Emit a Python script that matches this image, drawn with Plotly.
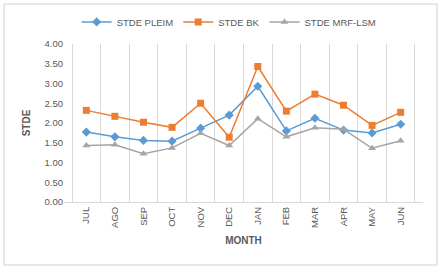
import plotly.graph_objects as go

months = ["JUL", "AGO", "SEP", "OCT", "NOV", "DEC", "JAN", "FEB", "MAR", "APR", "MAY", "JUN"]
stde_pleim = [1.77, 1.65, 1.56, 1.54, 1.87, 2.20, 2.93, 1.80, 2.12, 1.82, 1.75, 1.97]
stde_bk = [2.32, 2.17, 2.02, 1.89, 2.50, 1.64, 3.43, 2.30, 2.73, 2.45, 1.94, 2.27]
stde_mrf = [1.43, 1.45, 1.22, 1.37, 1.74, 1.43, 2.11, 1.65, 1.88, 1.84, 1.36, 1.55]

series = [
    ("STDE PLEIM", stde_pleim, "#5B9BD5", "diamond"),
    ("STDE BK", stde_bk, "#ED7D31", "square"),
    ("STDE MRF-LSM", stde_mrf, "#A5A5A5", "triangle-up"),
]

fig = go.Figure()
for name, vals, col, sym in series:
    fig.add_trace(go.Scatter(
        x=months, y=vals, name=name, mode="lines+markers",
        line=dict(color=col, width=1.5),
        marker=dict(symbol=sym, size=7, color=col),
    ))

font_fam = "Liberation Sans, Arial, sans-serif"
fig.update_layout(
    width=443, height=269,
    margin=dict(l=64, r=20, t=44, b=67, autoexpand=False),
    paper_bgcolor="white", plot_bgcolor="white",
    font=dict(family=font_fam, size=9, color="#595959"),
    showlegend=True,
    legend=dict(orientation="h", x=0.46, xanchor="center", y=1.14, yanchor="middle",
                font=dict(size=9.5, color="#595959"), itemwidth=30,
                bgcolor="rgba(0,0,0,0)"),
    xaxis=dict(
        type="category", tickson="boundaries", showgrid=True, gridcolor="#D9D9D9",
        gridwidth=1, ticks="", tickangle=-90, showline=True, linecolor="#D9D9D9",
        tickfont=dict(size=9.5), zeroline=False,
        title=dict(text="<b>MONTH</b>", font=dict(size=10, color="#595959"), standoff=10),
    ),
    yaxis=dict(
        range=[0, 4], dtick=0.5, tickformat=".2f", showgrid=False, zeroline=False,
        showline=False, ticks="", tickfont=dict(size=9.5),
        title=dict(text="<b>STDE</b>", font=dict(size=10, color="#595959"), standoff=12),
    ),
    shapes=[dict(type="rect", xref="paper", yref="paper",
                 x0=-0.167, x1=1.039, y0=-0.399, y1=1.253,
                 line=dict(color="#D0D0D0", width=1), fillcolor="rgba(0,0,0,0)")],
)

fig.write_html("out.html", config={"displayModeBar": False},
               post_script="document.body.style.margin='0';")
